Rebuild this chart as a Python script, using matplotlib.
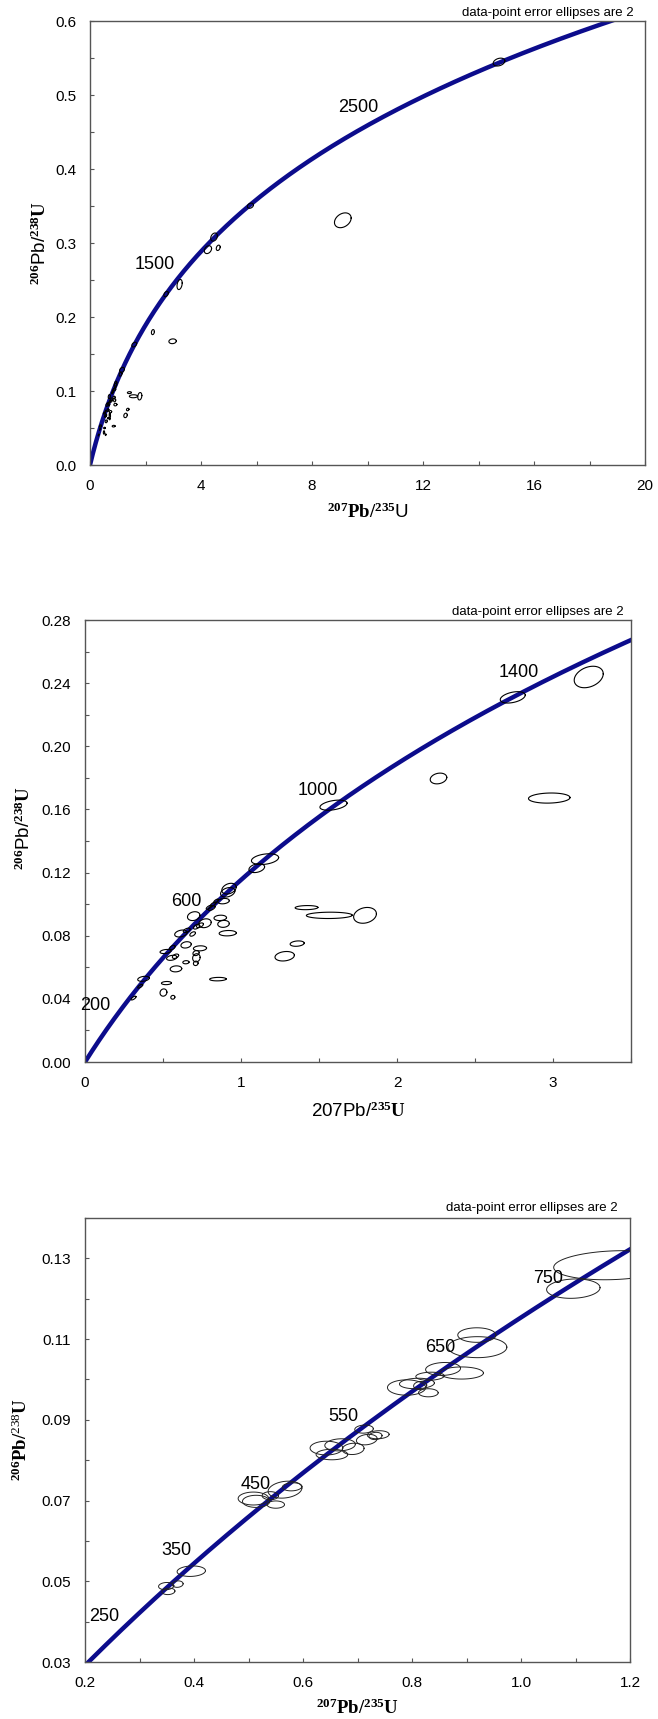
import numpy as np
import matplotlib
matplotlib.use('Agg')
import matplotlib.pyplot as plt
from matplotlib.ticker import MultipleLocator

plt.rcParams['font.family'] = ['Liberation Sans', 'DejaVu Sans']
plt.rcParams['mathtext.fontset'] = 'custom'
plt.rcParams['mathtext.rm'] = 'Liberation Serif'
plt.rcParams['mathtext.bf'] = 'Liberation Serif:bold'
plt.rcParams['mathtext.sf'] = 'Liberation Sans'
plt.rcParams['mathtext.it'] = 'Liberation Serif:italic'

# ---------------- data ----------------
# decay constants (1/yr) defining the concordia curve
LAMBDA_238 = 1.55125e-10
LAMBDA_235 = 9.8485e-10

# Sample A (panels 1 and 2): centre 207/235, centre 206/238, half-widths, correlation
a_x = [3.229, 2.742, 2.266, 2.976, 1.593, 1.154, 1.101, 0.923, 0.915, 0.888,
       0.697, 0.769, 0.867, 0.888, 0.915, 0.615, 0.652, 0.690, 0.715, 0.737,
       0.648, 0.737, 0.712, 0.714, 0.710, 0.647, 0.583, 0.516, 0.556, 0.580,
       0.560, 0.375, 0.354, 0.311, 0.522, 0.503, 0.563, 0.852, 1.420, 1.566,
       1.795, 1.360, 1.280, 0.795, 0.822, 0.840, 0.812]
a_y = [0.2439, 0.2310, 0.1796, 0.1672, 0.1627, 0.1285, 0.1228, 0.1098, 0.1075, 0.1019,
       0.0924, 0.0879, 0.0913, 0.0875, 0.0816, 0.0814, 0.0834, 0.0811, 0.0857, 0.0866,
       0.0742, 0.0720, 0.0690, 0.0660, 0.0625, 0.0632, 0.0590, 0.0700, 0.0660, 0.0670,
       0.0725, 0.0527, 0.0480, 0.0405, 0.0500, 0.0440, 0.0410, 0.0525, 0.0978, 0.0929,
       0.0929, 0.0750, 0.0670, 0.0980, 0.1000, 0.1020, 0.0975]
a_sx = [0.093, 0.080, 0.053, 0.133, 0.087, 0.087, 0.050, 0.046, 0.046, 0.037,
        0.040, 0.040, 0.040, 0.037, 0.055, 0.040, 0.022, 0.018, 0.020, 0.022,
        0.033, 0.042, 0.020, 0.024, 0.015, 0.020, 0.037, 0.035, 0.033, 0.020,
        0.018, 0.037, 0.016, 0.016, 0.032, 0.022, 0.013, 0.053, 0.073, 0.147,
        0.073, 0.045, 0.062, 0.018, 0.018, 0.015, 0.022]
a_sy = [0.0068, 0.0036, 0.0034, 0.0032, 0.0032, 0.0034, 0.0028, 0.0034, 0.0030, 0.0017,
        0.0028, 0.0028, 0.0017, 0.0022, 0.0017, 0.0022, 0.0014, 0.0014, 0.0015, 0.0015,
        0.0020, 0.0016, 0.0016, 0.0026, 0.0014, 0.0010, 0.0019, 0.0013, 0.0016, 0.0014,
        0.0014, 0.0016, 0.0012, 0.0012, 0.0010, 0.0023, 0.0012, 0.0011, 0.0013, 0.0020,
        0.0050, 0.0017, 0.0030, 0.0013, 0.0013, 0.0012, 0.0015]
a_rho = [0.3, 0.4, 0.2, 0.1, 0.4, 0.3, 0.3, 0.3, 0.3, 0.2,
         0.2, 0.2, 0.1, 0.1, 0.1, 0.3, 0.5, 0.5, 0.5, 0.5,
         0.2, 0.1, 0.2, 0.1, 0.1, 0.1, 0.1, 0.3, 0.3, 0.4,
         0.5, 0.3, 0.7, 0.7, 0.1, 0.1, 0.1, 0.1, 0.1, 0.05,
         0.2, 0.2, 0.2, 0.7, 0.7, 0.7, 0.6]

# Sample A, grains only visible on the wide panel 1
b_x = [4.25, 4.47, 4.62, 5.78, 9.11, 14.74]
b_y = [0.291, 0.308, 0.2935, 0.3504, 0.3307, 0.5445]
b_sx = [0.13, 0.12, 0.07, 0.11, 0.30, 0.21]
b_sy = [0.0053, 0.0055, 0.0036, 0.0035, 0.0100, 0.0053]
b_rho = [0.3, 0.3, 0.3, 0.3, 0.3, 0.3]

# Sample B (panel 3)
c_x = [0.349, 0.353, 0.370, 0.395, 0.509, 0.514, 0.567, 0.580, 0.550, 0.540,
       0.643, 0.668, 0.653, 0.692, 0.717, 0.712, 0.738, 0.733, 0.790, 0.809,
       0.830, 0.857, 0.891, 0.833, 0.919, 0.920, 1.096, 1.170, 0.815]
c_y = [0.0488, 0.0475, 0.0493, 0.0525, 0.0705, 0.0698, 0.0727, 0.0734, 0.0690, 0.0712,
       0.0830, 0.0838, 0.0814, 0.0828, 0.0851, 0.0877, 0.0863, 0.0860, 0.0980, 0.0990,
       0.0967, 0.1026, 0.1016, 0.1008, 0.1110, 0.1080, 0.1225, 0.1283, 0.0985]
c_sx = [0.014, 0.012, 0.010, 0.026, 0.028, 0.025, 0.031, 0.018, 0.016, 0.015,
        0.030, 0.028, 0.029, 0.020, 0.019, 0.017, 0.020, 0.012, 0.035, 0.032,
        0.018, 0.032, 0.040, 0.026, 0.035, 0.054, 0.049, 0.110, 0.012]
c_sy = [0.0009, 0.0008, 0.0008, 0.0013, 0.0016, 0.0015, 0.0021, 0.0010, 0.0009, 0.0010,
        0.0017, 0.0015, 0.0013, 0.0014, 0.0013, 0.0010, 0.0010, 0.0009, 0.0019, 0.0013,
        0.0010, 0.0016, 0.0015, 0.0010, 0.0018, 0.0026, 0.0024, 0.0036, 0.0010]
c_rho = [0.1, 0.1, 0.1, 0.1, 0.0, 0.0, 0.2, 0.1, 0.0, 0.0,
         0.0, 0.1, 0.0, 0.1, 0.2, 0.1, 0.1, 0.1, 0.0, 0.1,
         0.0, 0.1, 0.0, 0.1, 0.0, 0.0, 0.1, 0.15, 0.1]

# age labels (Ma) on the concordia
ages1 = [1500, 2500]
ages2 = [200, 600, 1000, 1400]
ages3 = [250, 350, 450, 550, 650, 750]

# axis ranges and ticks
xlim1, ylim1 = (0, 20), (0, 0.6)
xticks1 = [0, 4, 8, 12, 16, 20]
yticks1 = [0.0, 0.1, 0.2, 0.3, 0.4, 0.5, 0.6]
xlim2, ylim2 = (0, 3.5), (0, 0.28)
xticks2 = [0, 1, 2, 3]
yticks2 = [0.00, 0.04, 0.08, 0.12, 0.16, 0.20, 0.24, 0.28]
xlim3, ylim3 = (0.2, 1.2), (0.03, 0.14)
xticks3 = [0.2, 0.4, 0.6, 0.8, 1.0, 1.2]
yticks3 = [0.03, 0.05, 0.07, 0.09, 0.11, 0.13]

NOTE = 'data-point error ellipses are 2'
CURVE_COLOR = '#0c0c8c'
SPINE = '#555555'


def concordia(t_ma):
    t = np.asarray(t_ma, dtype=float) * 1e6
    return np.exp(LAMBDA_235 * t) - 1, np.exp(LAMBDA_238 * t) - 1


def ellipse(ax, cx, cy, sx, sy, rho, color='k', lw=0.8):
    th = np.linspace(0, 2 * np.pi, 120)
    x = cx + sx * np.cos(th)
    y = cy + sy * (rho * np.cos(th) + np.sqrt(1 - rho ** 2) * np.sin(th))
    ax.plot(x, y, color=color, lw=lw, zorder=3)


def style(ax, xlim, ylim, xt, yt, xminor, yminor, xfmt, yfmt, lsize):
    ax.set_xlim(*xlim)
    ax.set_ylim(*ylim)
    ax.set_xticks(xt)
    ax.set_xticklabels([xfmt.format(v) for v in xt])
    ax.set_yticks(yt)
    ax.set_yticklabels([yfmt.format(v) for v in yt])
    ax.xaxis.set_minor_locator(MultipleLocator(xminor))
    ax.yaxis.set_minor_locator(MultipleLocator(yminor))
    ax.tick_params(which='both', direction='in', length=3, width=0.8,
                   color=SPINE, labelsize=lsize, pad=10, top=False, right=False)
    for s in ax.spines.values():
        s.set_color(SPINE)
        s.set_linewidth(1.0)


fig = plt.figure(figsize=(6.58, 17.19), dpi=100)
ax1 = fig.add_axes([90 / 658, 1 - 465 / 1719, 555 / 658, 444 / 1719])
ax2 = fig.add_axes([85 / 658, 1 - 1062 / 1719, 546 / 658, 442 / 1719])
ax3 = fig.add_axes([85 / 658, 1 - 1662 / 1719, 545 / 658, 444 / 1719])

t_curve = np.linspace(0, 3200, 800)
cx, cy = concordia(t_curve)

panels = [
    (ax1, ages1, list(zip(a_x + b_x, a_y + b_y, a_sx + b_sx, a_sy + b_sy, a_rho + b_rho)), 'k', 0.8),
    (ax2, ages2, list(zip(a_x, a_y, a_sx, a_sy, a_rho)), 'k', 0.8),
    (ax3, ages3, list(zip(c_x, c_y, c_sx, c_sy, c_rho)), '#222222', 0.7),
]
for ax, ages, ells, ecol, elw in panels:
    ax.plot(cx, cy, color=CURVE_COLOR, lw=3.2, zorder=2, solid_capstyle='butt')
    for e in ells:
        ellipse(ax, *e, color=ecol, lw=elw)
    ax_, ay_ = concordia(ages)
    for age, px, py in zip(ages, ax_, ay_):
        ax.annotate(str(age), (px, py), xytext=(-6.5, 5), textcoords='offset points',
                    ha='right', va='center', fontsize=13, annotation_clip=False,
                    zorder=4)

style(ax1, xlim1, ylim1, xticks1, yticks1, 2, 0.05, '{:g}', '{:.1f}', 11)
style(ax2, xlim2, ylim2, xticks2, yticks2, 0.5, 0.02, '{:g}', '{:.2f}', 11)
style(ax3, xlim3, ylim3, xticks3, yticks3, 0.1, 0.01, '{:.1f}', '{:.2f}', 11)

# notes
ax1.text(0.980, 1.018, NOTE, transform=ax1.transAxes, ha='right', va='center', fontsize=9.5)
ax2.text(0.987, 1.018, NOTE, transform=ax2.transAxes, ha='right', va='center', fontsize=9.5)
ax3.text(0.978, 1.0225, NOTE, transform=ax3.transAxes, ha='right', va='center', fontsize=9.5)

# axis labels
LS = 13.5
ax1.text(0.5, -0.106, r'$^{\mathbf{207}}\mathbf{Pb/}^{\mathbf{235}}\mathsf{U}$',
         transform=ax1.transAxes, ha='center', va='center', fontsize=LS)
ax1.text(-0.09, 0.5, r'$^{\mathbf{206}}\mathsf{Pb/}^{\mathbf{238}}\mathbf{U}$',
         transform=ax1.transAxes, ha='center', va='center', rotation=90, fontsize=LS)
ax2.text(0.5, -0.111, r'$\mathsf{207Pb/}^{\mathbf{235}}\mathbf{U}$',
         transform=ax2.transAxes, ha='center', va='center', fontsize=LS)
ax2.text(-0.112, 0.53, r'$^{\mathbf{206}}\mathsf{Pb/}^{\mathbf{238}}\mathbf{U}$',
         transform=ax2.transAxes, ha='center', va='center', rotation=90, fontsize=LS)
ax3.text(0.5, -0.104, r'$^{\mathbf{207}}\mathbf{Pb/}^{\mathbf{235}}\mathbf{U}$',
         transform=ax3.transAxes, ha='center', va='center', fontsize=LS)
ax3.text(-0.116, 0.5, r'$^{\mathbf{206}}\mathbf{Pb/}^{\mathrm{238}}\mathbf{U}$',
         transform=ax3.transAxes, ha='center', va='center', rotation=90, fontsize=LS)

fig.savefig('out.png', dpi=100, facecolor='white')
